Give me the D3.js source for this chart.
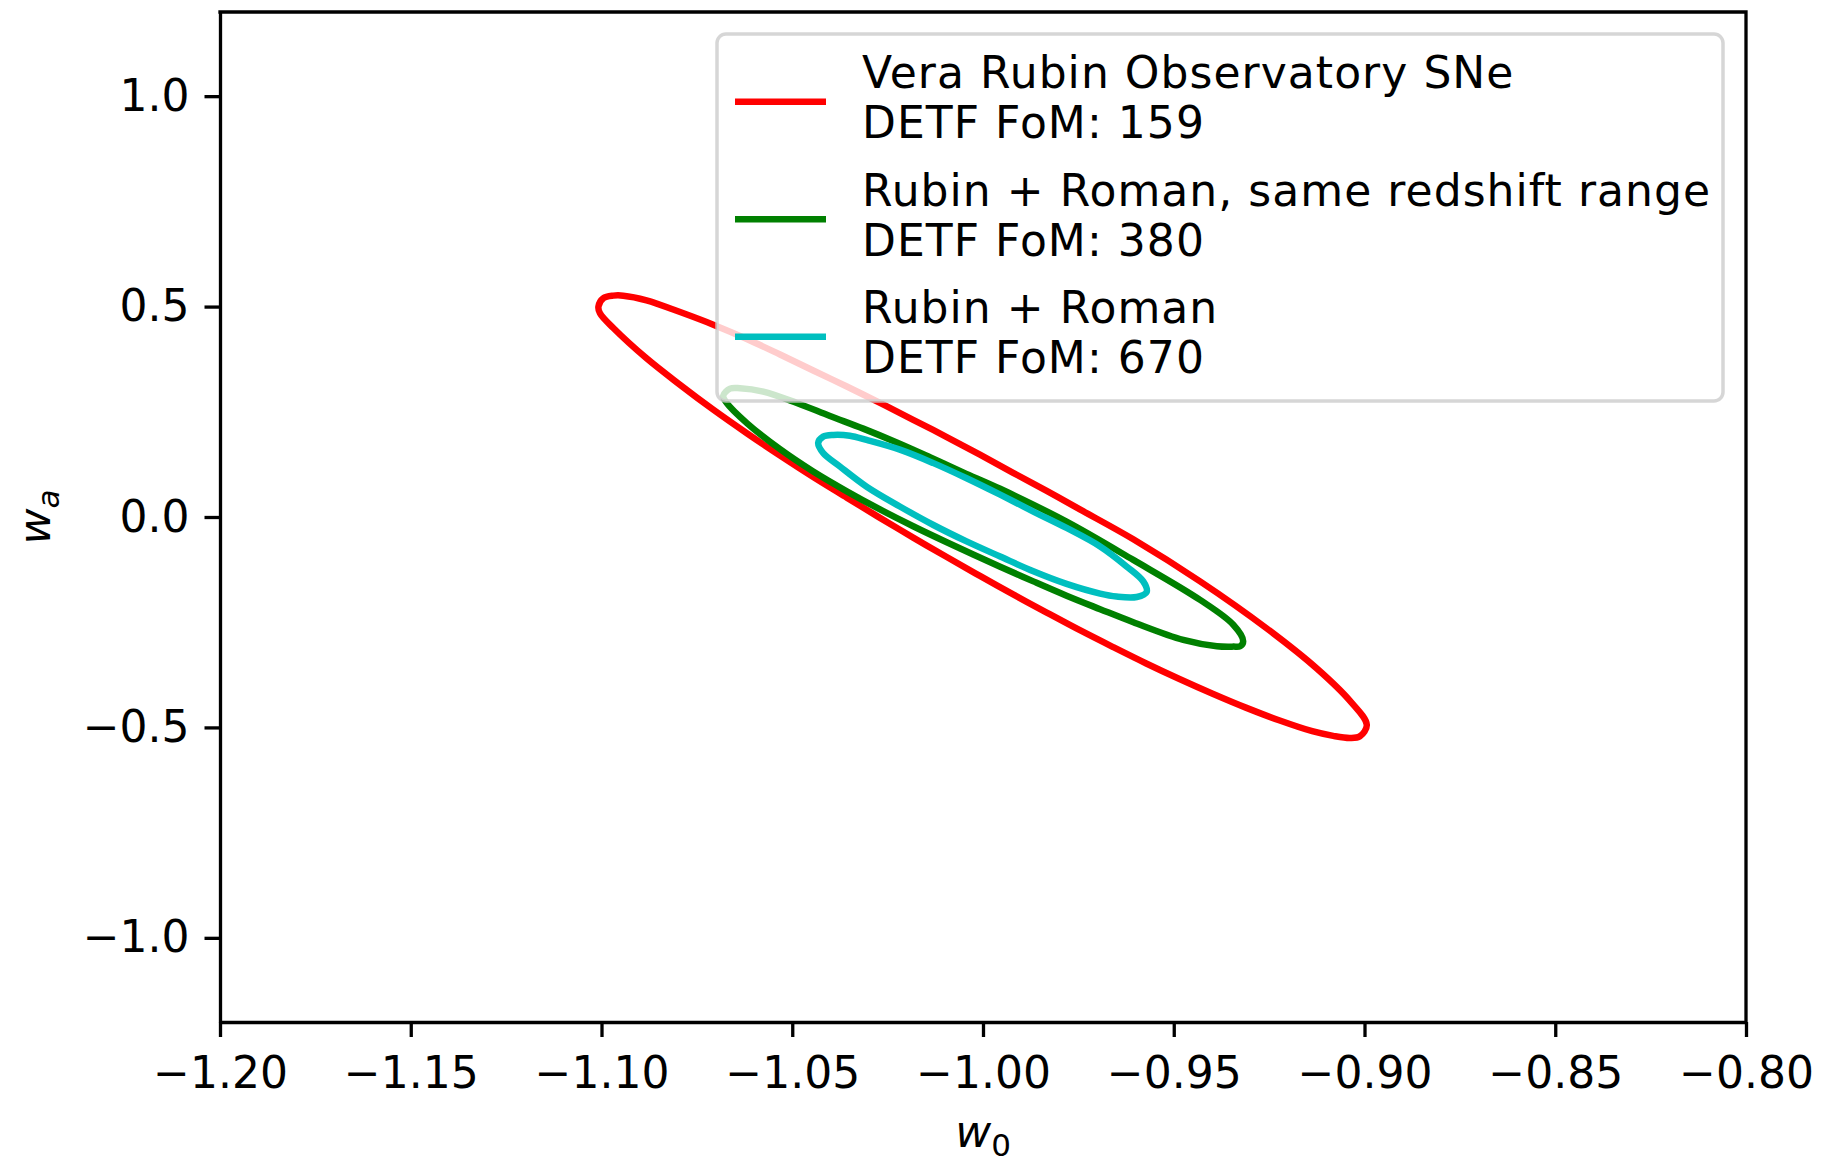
<!DOCTYPE html>
<html>
<head>
<meta charset="utf-8">
<script src="https://cdn.jsdelivr.net/npm/d3@7"></script>
<style>
  body { margin: 0; background: #ffffff; }
  svg { display: block; }
</style>
</head>
<body>
<script>
// w0 - wa contours

const xTicks = [-1.20, -1.15, -1.10, -1.05, -1.00, -0.95, -0.90, -0.85, -0.80];
const yTicks = [-1.0, -0.5, 0.0, 0.5, 1.0];

const seriesNames = ["Vera Rubin Observatory SNe", "Rubin + Roman, same redshift range", "Rubin + Roman"];
const fomValues = [159, 380, 670];
const seriesColors = ["#ff0000", "#008000", "#00bfbf"];

// [w0, wa] points along each contour
const rubinContour = [
  [-1.1008, 0.500], [-1.0995, 0.520], [-1.0969, 0.526], [-1.0943, 0.526], [-1.0882, 0.515],
  [-1.0794, 0.487], [-1.0707, 0.457], [-1.0619, 0.423], [-1.0532, 0.386], [-1.0445, 0.348],
  [-1.0357, 0.310], [-1.0270, 0.271], [-1.0183, 0.231], [-1.0095, 0.190], [-1.0008, 0.148],
  [-0.9921, 0.105], [-0.9833, 0.062], [-0.9746, 0.018], [-0.9606, -0.053], [-0.9431, -0.153],
  [-0.9256, -0.265], [-0.9125, -0.360], [-0.9038, -0.437], [-0.8994, -0.494], [-0.9012, -0.521],
  [-0.9038, -0.525], [-0.9082, -0.520], [-0.9137, -0.509], [-0.9224, -0.483], [-0.9311, -0.453],
  [-0.9398, -0.420], [-0.9485, -0.385], [-0.9572, -0.348], [-0.9659, -0.309], [-0.9746, -0.269],
  [-0.9833, -0.227], [-0.9921, -0.184], [-1.0008, -0.140], [-1.0095, -0.095], [-1.0183, -0.049],
  [-1.0270, -0.002], [-1.0357, 0.046], [-1.0445, 0.095], [-1.0532, 0.146], [-1.0619, 0.199],
  [-1.0707, 0.255], [-1.0794, 0.314], [-1.0882, 0.377], [-1.0969, 0.449], [-1.1004, 0.484]
];

const sameZContour = [
  [-1.0681, 0.288], [-1.0663, 0.305], [-1.0637, 0.306], [-1.0576, 0.298], [-1.0488, 0.271],
  [-1.0401, 0.240], [-1.0314, 0.210], [-1.0226, 0.177], [-1.0139, 0.142], [-1.0052, 0.106],
  [-0.9955, 0.067], [-0.9781, -0.011], [-0.9606, -0.102], [-0.9431, -0.197], [-0.9344, -0.256],
  [-0.9318, -0.295], [-0.9326, -0.307], [-0.9344, -0.308], [-0.9387, -0.307], [-0.9475, -0.292],
  [-0.9606, -0.250], [-0.9693, -0.219], [-0.9781, -0.187], [-0.9868, -0.153], [-0.9955, -0.118],
  [-1.0095, -0.060], [-1.0183, -0.022], [-1.0270, 0.018], [-1.0357, 0.061], [-1.0445, 0.108],
  [-1.0532, 0.161], [-1.0619, 0.223], [-1.0672, 0.271]
];

const fullContour = [
  [-1.0432, 0.176], [-1.0419, 0.191], [-1.0392, 0.195], [-1.0349, 0.193], [-1.0305, 0.183],
  [-1.0218, 0.160], [-1.0130, 0.128], [-1.0043, 0.092], [-0.9955, 0.053], [-0.9868, 0.013],
  [-0.9781, -0.026], [-0.9693, -0.070], [-0.9623, -0.118], [-0.9580, -0.153], [-0.9571, -0.178],
  [-0.9597, -0.190], [-0.9650, -0.189], [-0.9693, -0.182], [-0.9781, -0.159], [-0.9868, -0.129],
  [-0.9955, -0.094], [-1.0043, -0.058], [-1.0130, -0.019], [-1.0218, 0.025], [-1.0305, 0.072],
  [-1.0375, 0.120], [-1.0419, 0.152]
];

const contours = [rubinContour, sameZContour, fullContour];

const width = 1831;
const height = 1162;
const margin = {top: 12, right: 85, bottom: 140, left: 220};
const fontFamily = "'DejaVu Sans', sans-serif";

const svg = d3.select("body")
  .append("svg")
  .attr("width", width)
  .attr("height", height);

const x = d3.scaleLinear()
  .domain([-1.2, -0.8])
  .range([margin.left, width - margin.right]);

const y = d3.scaleLinear()
  .domain([-1.2, 1.2])
  .range([height - margin.bottom, margin.top]);

// contours
const line = d3.line()
  .x(d => x(d[0]))
  .y(d => y(d[1]))
  .curve(d3.curveCatmullRomClosed.alpha(0.5));

svg.append("g")
  .selectAll("path")
  .data(contours)
  .enter()
  .append("path")
  .attr("d", line)
  .attr("fill", "none")
  .attr("stroke", (d, i) => seriesColors[i])
  .attr("stroke-width", 6.5)
  .attr("stroke-linejoin", "round");

// axes
const xAxis = svg.append("g")
  .attr("transform", `translate(0,${height - margin.bottom})`)
  .call(d3.axisBottom(x).tickValues(xTicks).tickFormat(d3.format(".2f"))
    .tickSize(15).tickSizeOuter(0).tickPadding(20));

const yAxis = svg.append("g")
  .attr("transform", `translate(${margin.left},0)`)
  .call(d3.axisLeft(y).tickValues(yTicks).tickFormat(d3.format(".1f"))
    .tickSize(15.5).tickSizeOuter(0).tickPadding(15));

[xAxis, yAxis].forEach(g => {
  g.selectAll("path, line").attr("stroke", "#000").attr("stroke-width", 3.3);
  g.selectAll("text")
    .style("font-family", fontFamily)
    .style("font-size", "44px")
    .attr("fill", "#000");
});

// top and right spines
svg.append("path")
  .attr("d", `M${x(-1.2)},${y(1.2)}H${x(-0.8)}V${y(-1.2)}`)
  .attr("fill", "none")
  .attr("stroke", "#000")
  .attr("stroke-width", 3.3)
  .attr("stroke-linecap", "square");

// axis labels
const xLabel = svg.append("text")
  .attr("x", (x(-1.2) + x(-0.8)) / 2)
  .attr("y", 1147)
  .attr("text-anchor", "middle")
  .style("font-family", fontFamily)
  .style("font-size", "44px");
xLabel.append("tspan").style("font-style", "italic").text("w");
xLabel.append("tspan").attr("dy", 9).style("font-size", "31px").text("0");

const yLabel = svg.append("text")
  .attr("transform", `translate(50,${(y(1.2) + y(-1.2)) / 2}) rotate(-90)`)
  .attr("text-anchor", "middle")
  .style("font-family", fontFamily)
  .style("font-size", "44px");
yLabel.append("tspan").style("font-style", "italic").text("w");
yLabel.append("tspan").attr("dy", 9).style("font-size", "31px").style("font-style", "italic").text("a");

// legend
const legend = svg.append("g").attr("transform", "translate(717,34)");

legend.append("rect")
  .attr("width", 1006)
  .attr("height", 367)
  .attr("rx", 9)
  .attr("fill", "#ffffff")
  .attr("fill-opacity", 0.8)
  .attr("stroke", "#cccccc")
  .attr("stroke-opacity", 0.8)
  .attr("stroke-width", 3.5);

const legendItems = legend.selectAll(".legend-item")
  .data(seriesNames)
  .enter()
  .append("g")
  .attr("class", "legend-item")
  .attr("transform", (d, i) => `translate(0,${i * 117.5})`);

legendItems.append("line")
  .attr("x1", 18)
  .attr("x2", 109)
  .attr("y1", 67.7)
  .attr("y2", 67.7)
  .attr("stroke", (d, i) => seriesColors[i])
  .attr("stroke-width", 6.5);

legendItems.append("text")
  .attr("x", 145)
  .attr("y", 54)
  .style("font-family", fontFamily)
  .style("font-size", "44px")
  .style("letter-spacing", "1.05px")
  .text(d => d);

legendItems.append("text")
  .attr("x", 145)
  .attr("y", 104.3)
  .style("font-family", fontFamily)
  .style("font-size", "44px")
  .style("letter-spacing", "1.05px")
  .text((d, i) => `DETF FoM: ${fomValues[i]}`);
</script>
</body>
</html>
